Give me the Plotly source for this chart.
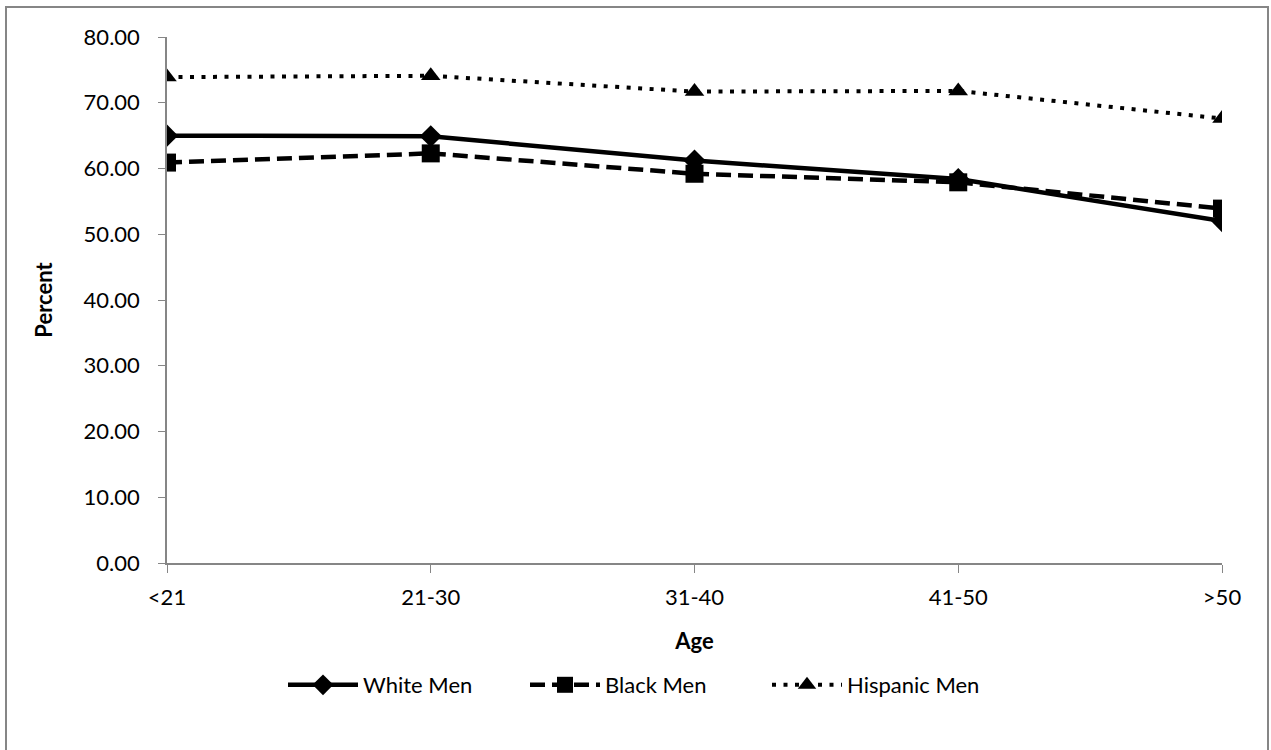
import plotly.graph_objects as go

ages = ["<21", "21-30", "31-40", "41-50", ">50"]
white_men = [65.0, 64.9, 61.2, 58.4, 52.0]
black_men = [60.9, 62.3, 59.2, 57.9, 53.9]
hispanic_men = [73.9, 74.1, 71.7, 71.8, 67.6]
y_ticks = [0, 10, 20, 30, 40, 50, 60, 70, 80]

FONT = "Lato"
W, H = 1271, 750
L, T = 167, 37
R = W - 1222
B = H - 563

fig = go.Figure()
fig.add_trace(go.Scatter(
    x=ages, y=white_men, name="White Men", mode="lines+markers",
    line=dict(color="black", width=4.5),
    marker=dict(symbol="diamond", size=17, color="black"),
))
fig.add_trace(go.Scatter(
    x=ages, y=black_men, name="Black Men", mode="lines+markers",
    line=dict(color="black", width=4.5, dash="15px,7px"),
    marker=dict(symbol="square", size=18, color="black"),
))
fig.add_trace(go.Scatter(
    x=ages, y=hispanic_men, name="Hispanic Men", mode="lines+markers",
    line=dict(color="black", width=4, dash="4px,7.5px"),
    marker=dict(symbol="triangle-up", size=17, color="black"),
))

pw = W - L - R
ph = H - T - B
bottom_px = H - B


def px_x(x):
    return (x - L) / pw


def px_y(y):
    return (bottom_px - y) / ph


fig.add_shape(type="rect", xref="paper", yref="paper",
              x0=px_x(6), x1=px_x(1268),
              y0=px_y(770), y1=px_y(7),
              line=dict(color="#868686", width=2), fillcolor="rgba(0,0,0,0)",
              layer="below")

fig.update_layout(
    width=W, height=H,
    margin=dict(l=L, r=R, t=T, b=B, pad=0),
    paper_bgcolor="white", plot_bgcolor="white",
    font=dict(family=FONT, size=22, color="black"),
    showlegend=True,
    legend=dict(orientation="h", x=px_x(283), xanchor="left",
                y=px_y(685), yanchor="middle",
                itemwidth=70, entrywidth=157, font=dict(size=22),
                tracegroupgap=0),
    xaxis=dict(
        type="category", range=[0, 4], showgrid=False, zeroline=False,
        showline=True, linecolor="#868686", linewidth=1.5,
        ticks="outside", ticklen=8, tickcolor="#868686",
        ticklabelstandoff=6,
        title=dict(text="<b>Age</b>", standoff=24, font=dict(size=22)),
    ),
    yaxis=dict(
        range=[0, 80], tickvals=y_ticks, tickformat=".2f", showgrid=False,
        zeroline=False, showline=True, linecolor="#868686", linewidth=1.5,
        ticks="outside", ticklen=7, tickcolor="#868686",
        ticklabelstandoff=14,
        title=dict(text="<b>Percent</b>", standoff=25, font=dict(size=22)),
    ),
)

fig.write_html("out.html", config={"displayModeBar": False},
               post_script="document.body.style.margin='0px';")
